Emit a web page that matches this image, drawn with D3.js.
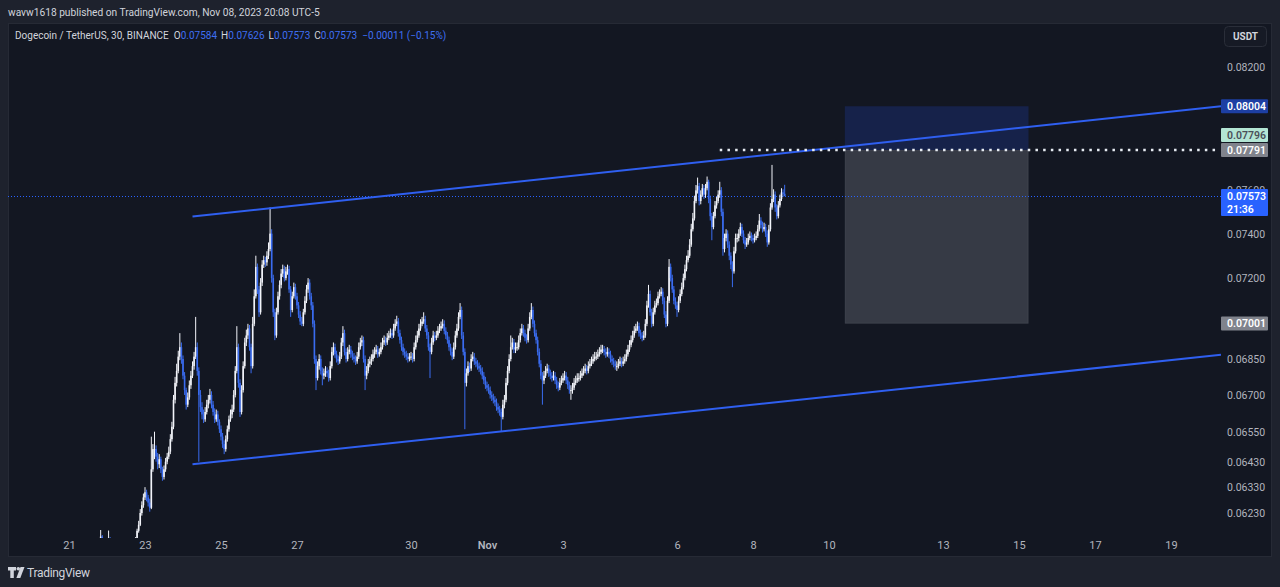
<!DOCTYPE html>
<html><head><meta charset="utf-8">
<script src="https://cdn.jsdelivr.net/npm/d3@7"></script>
<style>
html,body{margin:0;padding:0;background:#1e222d;overflow:hidden}
svg{display:block;font-family:Roboto,"Noto Sans",sans-serif}
</style></head><body>
<svg id="c" width="1280" height="587"></svg>
<script>
// ---------------- DATA ----------------
// Hourly candles (DOGE/USDT), first candle starts Oct 21 2023 18:00; open of each = previous close
const candleStartUTC = [2023, 9, 21, 18];
const firstOpen = 0.06100;
const closes = [
0.06105,0.06120,0.06140,0.06125,0.06110,0.06100,0.06115,0.06135,0.06120,0.06105,0.06095,0.06090,0.06100,0.06110,0.06105,0.06095,0.06090,0.06100,0.06110,0.06120,0.06115,0.06110,0.06120,0.06128,0.06135,
0.06162,0.06185,0.06230,0.06260,0.06290,0.06310,0.06290,0.06270,0.06250,
0.06400,0.06480,0.06480,0.06450,0.06420,0.06440,0.06400,0.06370,0.06400,0.06430,0.06450,0.06470,0.06520,0.06570,
0.06680,0.06750,0.06800,0.06860,0.06900,0.06850,0.06780,0.06720,0.06660,0.06690,0.06740,0.06780,0.06820,0.06860,0.06900,0.06800,
0.06700,0.06650,0.06620,0.06600,0.06630,0.06660,0.06680,0.06700,0.06660,0.06630,0.06600,0.06620,0.06590,0.06560,0.06530,0.06500,0.06480,0.06520,0.06560,0.06600,0.06620,0.06640,0.06700,0.06800,
0.06900,0.06750,0.06630,0.06720,0.06820,0.06920,0.06950,0.06980,0.06900,0.06820,0.07000,0.07120,0.07250,0.07150,0.07050,0.07180,0.07260,0.07280,0.07270,0.07300,0.07330,0.07400,
0.07200,0.07050,0.06950,0.07050,0.07120,0.07170,0.07220,0.07240,0.07200,0.07230,0.07240,0.07150,0.07060,0.07120,0.07160,0.07120,0.07080,0.07040,0.07010,0.07000,0.07050,0.07100,0.07150,0.07180,
0.07120,0.07080,0.07000,0.06850,0.06770,0.06820,0.06850,0.06800,0.06780,0.06790,0.06800,0.06790,0.06770,0.06820,0.06880,0.06900,0.06870,0.06850,0.06840,0.06860,
0.06920,0.06960,0.06880,0.06850,0.06880,0.06890,0.06870,0.06860,0.06850,0.06840,0.06860,0.06900,0.06920,0.06930,0.06850,0.06780,0.06800,0.06830,0.06840,0.06850,
0.06870,0.06880,0.06890,0.06870,0.06880,0.06900,0.06920,0.06930,0.06920,0.06940,0.06950,0.06960,0.06950,0.06980,0.07000,0.07010,0.06960,0.06930,0.06900,0.06880,0.06870,0.06860,0.06850,0.06860,0.06860,0.06850,
0.06900,0.06930,0.06950,0.06980,0.07000,0.07010,0.07020,0.06980,0.06950,0.06900,0.06880,0.06920,0.06950,0.06940,0.06950,0.06970,0.06980,0.06990,0.07000,0.06970,0.06950,0.06930,0.06900,0.06880,0.06860,0.06900,0.06950,0.06980,0.07030,0.07060,
0.06950,0.06880,0.06750,0.06790,0.06820,0.06810,0.06850,0.06860,0.06840,0.06830,0.06820,0.06810,0.06800,0.06780,0.06760,0.06740,0.06730,0.06720,0.06700,0.06690,0.06680,0.06670,0.06650,0.06640,0.06630,0.06610,0.06660,0.06680,
0.06750,0.06800,0.06850,0.06900,0.06920,0.06890,0.06900,0.06900,0.06930,0.06960,0.06980,0.06960,0.06940,0.06930,0.06980,0.07030,0.07060,0.07000,0.06960,0.06930,0.06880,0.06830,0.06780,0.06760,
0.06780,0.06800,0.06810,0.06790,0.06780,0.06770,0.06780,0.06760,0.06740,0.06730,0.06750,0.06760,0.06770,0.06780,0.06760,0.06740,0.06720,0.06720,0.06730,0.06750,0.06760,0.06770,0.06770,0.06780,0.06790,0.06800,0.06810,0.06800,0.06820,0.06830,
0.06840,0.06850,0.06860,0.06860,0.06870,0.06880,0.06890,0.06890,0.06880,0.06870,0.06880,0.06870,0.06850,0.06840,0.06830,0.06820,0.06820,0.06830,0.06840,0.06830,0.06840,0.06850,0.06870,0.06890,0.06910,0.06930,0.06950,0.06970,0.06980,0.06990,
0.06960,0.06950,0.06940,0.06950,0.07000,0.07080,0.07130,0.07050,0.07000,0.07050,0.07080,0.07090,0.07120,0.07130,0.07140,0.07100,0.07040,0.07000,0.07100,0.07250,0.07200,0.07150,0.07100,0.07080,0.07060,0.07100,0.07130,0.07160,0.07200,0.07240,0.07280,0.07300,
0.07350,0.07420,0.07470,0.07550,0.07600,0.07620,0.07550,0.07580,0.07610,0.07580,0.07610,0.07640,0.07560,0.07480,0.07430,0.07480,0.07530,0.07550,0.07580,0.07600,0.07500,0.07330,0.07380,0.07400,0.07350,0.07300,0.07260,0.07230,0.07320,0.07380,
0.07380,0.07400,0.07430,0.07400,0.07370,0.07350,0.07360,0.07380,0.07390,0.07380,0.07370,0.07380,0.07390,0.07420,0.07460,0.07440,0.07420,0.07430,0.07400,0.07360,0.07420,0.07520,0.07560,0.07580,0.07520,0.07480,0.07530,0.07560,0.07590,0.07584,0.07573
];
const highs = [
0.06112,0.06128,0.06165,0.06146,0.06130,0.06116,0.06122,0.06163,0.06138,0.06125,0.06110,0.06100,0.06106,0.06116,0.06118,0.06110,0.06100,0.06105,0.06116,0.06126,0.06128,0.06120,0.06125,0.06133,0.06138,
0.06170,0.06200,0.06245,0.06275,0.06305,0.06330,0.06320,0.06300,0.06285,
0.06530,0.06500,0.06550,0.06495,0.06465,0.06460,0.06450,0.06410,0.06415,0.06445,0.06465,0.06490,0.06540,0.06590,
0.06700,0.06775,0.06830,0.06885,0.06960,0.06920,0.06865,0.06795,0.06730,0.06710,0.06760,0.06800,0.06840,0.06880,0.07030,0.06920,
0.06815,0.06720,0.06670,0.06640,0.06650,0.06680,0.06700,0.06725,0.06715,0.06675,0.06645,0.06640,0.06635,0.06600,0.06575,0.06545,0.06515,0.06535,0.06575,0.06615,0.06640,0.06660,0.06720,0.06820,
0.06990,0.06915,0.06765,0.06740,0.06840,0.06940,0.06975,0.07000,0.06995,0.06915,0.07030,0.07150,0.07300,0.07265,0.07165,0.07200,0.07280,0.07300,0.07295,0.07320,0.07360,0.07520,
0.07420,0.07215,0.07065,0.07070,0.07140,0.07190,0.07240,0.07260,0.07255,0.07250,0.07260,0.07255,0.07165,0.07140,0.07180,0.07175,0.07135,0.07095,0.07055,0.07030,0.07065,0.07120,0.07170,0.07200,
0.07195,0.07135,0.07095,0.07015,0.06865,0.06840,0.06870,0.06865,0.06815,0.06810,0.06820,0.06815,0.06805,0.06840,0.06900,0.06920,0.06915,0.06885,0.06865,0.06880,
0.06940,0.06990,0.06975,0.06895,0.06900,0.06910,0.06905,0.06885,0.06875,0.06865,0.06880,0.06920,0.06940,0.06950,0.06945,0.06865,0.06820,0.06850,0.06860,0.06870,
0.06890,0.06900,0.06910,0.06905,0.06895,0.06920,0.06940,0.06950,0.06945,0.06960,0.06970,0.06980,0.06975,0.07000,0.07020,0.07035,0.07025,0.06975,0.06945,0.06915,0.06895,0.06885,0.06875,0.06875,0.06880,0.06875,
0.06920,0.06950,0.06970,0.07000,0.07020,0.07030,0.07050,0.07035,0.06995,0.06965,0.06915,0.06940,0.06970,0.06965,0.06970,0.06990,0.07000,0.07010,0.07020,0.07015,0.06985,0.06965,0.06945,0.06915,0.06895,0.06920,0.06970,0.07000,0.07050,0.07090,
0.07075,0.06965,0.06895,0.06810,0.06840,0.06835,0.06870,0.06880,0.06875,0.06855,0.06845,0.06835,0.06825,0.06815,0.06795,0.06775,0.06755,0.06745,0.06735,0.06715,0.06705,0.06695,0.06685,0.06665,0.06655,0.06645,0.06680,0.06700,
0.06770,0.06820,0.06870,0.06950,0.06940,0.06935,0.06920,0.06920,0.06950,0.06980,0.07000,0.06995,0.06975,0.06955,0.07000,0.07050,0.07090,0.07075,0.07015,0.06975,0.06945,0.06895,0.06845,0.06795,
0.06800,0.06820,0.06830,0.06825,0.06805,0.06795,0.06800,0.06795,0.06775,0.06755,0.06770,0.06780,0.06790,0.06800,0.06795,0.06775,0.06755,0.06740,0.06750,0.06770,0.06780,0.06790,0.06790,0.06800,0.06810,0.06820,0.06830,0.06825,0.06840,0.06850,
0.06860,0.06870,0.06880,0.06880,0.06890,0.06900,0.06910,0.06910,0.06905,0.06895,0.06900,0.06895,0.06885,0.06865,0.06855,0.06845,0.06840,0.06850,0.06860,0.06855,0.06860,0.06870,0.06890,0.06910,0.06930,0.06950,0.06970,0.06990,0.07000,0.07010,
0.07005,0.06975,0.06965,0.06970,0.07020,0.07100,0.07170,0.07145,0.07065,0.07070,0.07100,0.07110,0.07140,0.07150,0.07160,0.07155,0.07115,0.07055,0.07120,0.07285,0.07265,0.07215,0.07165,0.07115,0.07095,0.07120,0.07150,0.07180,0.07220,0.07260,0.07300,0.07325,
0.07375,0.07445,0.07495,0.07575,0.07625,0.07660,0.07635,0.07600,0.07630,0.07625,0.07630,0.07665,0.07650,0.07575,0.07495,0.07500,0.07550,0.07570,0.07600,0.07640,0.07615,0.07515,0.07400,0.07420,0.07415,0.07365,0.07315,0.07275,0.07340,0.07400,
0.07400,0.07420,0.07450,0.07445,0.07415,0.07385,0.07380,0.07400,0.07410,0.07405,0.07395,0.07400,0.07410,0.07440,0.07490,0.07475,0.07455,0.07450,0.07445,0.07415,0.07440,0.07540,0.07720,0.07605,0.07595,0.07535,0.07550,0.07580,0.07610,0.07605,0.07626
];
const lows = [
0.06092,0.06098,0.06115,0.06118,0.06102,0.06090,0.06095,0.06110,0.06112,0.06098,0.06085,0.06080,0.06084,0.06095,0.06098,0.06088,0.06082,0.06085,0.06095,0.06104,0.06108,0.06102,0.06105,0.06114,0.06120,
0.06130,0.06155,0.06180,0.06220,0.06250,0.06280,0.06275,0.06255,0.06235,
0.06245,0.06390,0.06440,0.06430,0.06400,0.06405,0.06385,0.06355,0.06360,0.06390,0.06420,0.06440,0.06460,0.06510,
0.06560,0.06665,0.06735,0.06790,0.06845,0.06830,0.06765,0.06700,0.06640,0.06650,0.06680,0.06725,0.06770,0.06805,0.06850,0.06780,
0.06430,0.06630,0.06600,0.06585,0.06590,0.06620,0.06645,0.06665,0.06645,0.06615,0.06585,0.06590,0.06575,0.06545,0.06515,0.06485,0.06460,0.06470,0.06510,0.06550,0.06590,0.06605,0.06630,0.06690,
0.06790,0.06730,0.06610,0.06620,0.06710,0.06810,0.06905,0.06935,0.06885,0.06790,0.06810,0.06990,0.07110,0.07130,0.07030,0.07040,0.07165,0.07245,0.07250,0.07255,0.07285,0.07320,
0.07180,0.07030,0.06930,0.06940,0.07040,0.07105,0.07155,0.07205,0.07185,0.07190,0.07215,0.07135,0.07030,0.07050,0.07110,0.07105,0.07065,0.07025,0.06995,0.06990,0.06990,0.07040,0.07090,0.07135,
0.07105,0.07060,0.06985,0.06830,0.06720,0.06760,0.06805,0.06785,0.06740,0.06765,0.06775,0.06775,0.06755,0.06760,0.06810,0.06865,0.06855,0.06835,0.06825,0.06830,
0.06850,0.06905,0.06865,0.06835,0.06840,0.06870,0.06855,0.06845,0.06835,0.06825,0.06830,0.06850,0.06890,0.06905,0.06835,0.06720,0.06765,0.06790,0.06815,0.06825,
0.06840,0.06855,0.06870,0.06855,0.06860,0.06870,0.06890,0.06910,0.06905,0.06910,0.06930,0.06940,0.06935,0.06940,0.06970,0.06990,0.06945,0.06915,0.06885,0.06865,0.06855,0.06845,0.06835,0.06840,0.06845,0.06835,
0.06840,0.06890,0.06920,0.06940,0.06970,0.06990,0.07000,0.06965,0.06935,0.06885,0.06770,0.06870,0.06910,0.06925,0.06930,0.06940,0.06960,0.06970,0.06980,0.06955,0.06935,0.06915,0.06885,0.06865,0.06845,0.06850,0.06890,0.06940,0.06970,0.07020,
0.06935,0.06865,0.06560,0.06735,0.06780,0.06795,0.06800,0.06840,0.06825,0.06815,0.06805,0.06795,0.06785,0.06765,0.06745,0.06725,0.06715,0.06705,0.06685,0.06675,0.06665,0.06655,0.06635,0.06625,0.06615,0.06550,0.06600,0.06645,
0.06670,0.06740,0.06790,0.06840,0.06890,0.06875,0.06875,0.06885,0.06890,0.06920,0.06950,0.06945,0.06925,0.06915,0.06920,0.06970,0.07020,0.06985,0.06945,0.06915,0.06865,0.06815,0.06765,0.06660,
0.06745,0.06770,0.06790,0.06775,0.06765,0.06755,0.06760,0.06745,0.06725,0.06715,0.06720,0.06740,0.06750,0.06760,0.06745,0.06725,0.06705,0.06680,0.06705,0.06720,0.06740,0.06750,0.06755,0.06760,0.06770,0.06780,0.06790,0.06785,0.06790,0.06810,
0.06820,0.06830,0.06840,0.06845,0.06850,0.06860,0.06870,0.06875,0.06865,0.06855,0.06860,0.06855,0.06835,0.06825,0.06815,0.06805,0.06800,0.06810,0.06820,0.06815,0.06820,0.06830,0.06840,0.06860,0.06880,0.06900,0.06920,0.06940,0.06960,0.06970,
0.06945,0.06935,0.06925,0.06930,0.06940,0.06990,0.07070,0.07035,0.06985,0.06990,0.07040,0.07070,0.07080,0.07110,0.07120,0.07085,0.07025,0.06985,0.06990,0.07090,0.07185,0.07135,0.07085,0.07065,0.07030,0.07050,0.07090,0.07120,0.07150,0.07190,0.07230,0.07270,
0.07290,0.07340,0.07410,0.07460,0.07540,0.07585,0.07530,0.07535,0.07570,0.07560,0.07565,0.07600,0.07540,0.07460,0.07370,0.07420,0.07470,0.07515,0.07540,0.07565,0.07480,0.07300,0.07315,0.07365,0.07335,0.07280,0.07240,0.07160,0.07220,0.07310,
0.07360,0.07365,0.07390,0.07385,0.07355,0.07330,0.07340,0.07350,0.07370,0.07365,0.07355,0.07360,0.07370,0.07380,0.07410,0.07425,0.07405,0.07410,0.07385,0.07340,0.07350,0.07410,0.07510,0.07545,0.07500,0.07465,0.07470,0.07520,0.07550,0.07570,0.07573
];

// Axis ticks
const priceTicks = [0.08200,0.08000,0.07800,0.07600,0.07400,0.07200,0.07000,0.06850,0.06700,0.06550,0.06430,0.06330,0.06230];
const timeTickDates = [[2023,9,21],[2023,9,23],[2023,9,25],[2023,9,27],[2023,9,30],[2023,10,1],[2023,10,3],[2023,10,6],[2023,10,8],[2023,10,10],[2023,10,13],[2023,10,15],[2023,10,17],[2023,10,19]];
const timeTickLabels = ["21","23","25","27","30","Nov","3","6","8","10","13","15","17","19"];

// Drawings: [date(UTC parts), price]
const upperTrend = [[[2023,9,24,6],0.07478],[[2023,10,20,8],0.08004]];
const lowerTrend = [[[2023,9,24,6],0.06420],[[2023,10,20,8],0.06868]];
const hLineStart = [2023,10,7,3];
const hLinePrice = 0.07791;
const boxStart = [2023,10,10,10];
const boxEnd = [2023,10,15,6];
const boxStop = 0.08004, boxEntry = 0.07791, boxTarget = 0.07001;
const markerLabel = 0.07796;
const countdown = "21:36";

// ---------------- DRAW ----------------
const U = a => new Date(Date.UTC(a[0], a[1], a[2], a[3]||0, a[4]||0));
const W = 1280, H = 587;
const plot = {x0: 8, x1: 1221, y0: 23, y1: 538};
const svg = d3.select('#c');

const x = d3.scaleUtc().domain([U([2023,9,21]), U([2023,10,20])]).range([69, 69 + 30*38]);
const y = d3.scaleLog().domain([0.0623, 0.082]).range([513, 67]);

// backgrounds
svg.append('rect').attr('width', W).attr('height', H).attr('fill', '#1e222d');
svg.append('rect').attr('x', 8.5).attr('y', 23.5).attr('width', 1263).attr('height', 533)
  .attr('fill', '#131722').attr('stroke', '#262a35');

svg.append('defs').append('clipPath').attr('id', 'pc').append('rect')
  .attr('x', plot.x0).attr('y', plot.y0).attr('width', plot.x1 - plot.x0).attr('height', plot.y1 - plot.y0);
const g = svg.append('g').attr('clip-path', 'url(#pc)');

// position box
const bx0 = x(U(boxStart)), bx1 = x(U(boxEnd));
g.append('rect').attr('x', bx0).attr('width', bx1 - bx0)
  .attr('y', y(boxStop)).attr('height', y(boxEntry) - y(boxStop)).attr('fill', '#16224a');
g.append('rect').attr('x', bx0 + 0.5).attr('width', bx1 - bx0 - 1)
  .attr('y', y(boxEntry) + 0.5).attr('height', y(boxTarget) - y(boxEntry) - 1)
  .attr('fill', '#363a45').attr('stroke', '#3e424d');

// candles
const n = Math.min(closes.length, highs.length, lows.length);
const t0 = U(candleStartUTC).getTime();
const candles = d3.range(n).map(i => {
  const o = i === 0 ? firstOpen : closes[i-1], c = closes[i];
  return {t: new Date(t0 + i*3600e3), o, c, h: Math.max(highs[i], o, c), l: Math.min(lows[i], o, c)};
});
const last = candles[n-1];

// current price line
g.append('line').attr('x1', plot.x0).attr('x2', plot.x1)
  .attr('y1', Math.round(y(last.c)) + 0.5).attr('y2', Math.round(y(last.c)) + 0.5)
  .attr('stroke', '#2962ff').attr('stroke-width', 1).attr('stroke-dasharray', '1,2');

const upCol = '#f2f4fa', dnCol = '#3a6cf0';
const cg = g.append('g');
cg.selectAll('line').data(candles).join('line')
  .attr('x1', d => x(d.t)).attr('x2', d => x(d.t))
  .attr('y1', d => y(d.h)).attr('y2', d => y(d.l))
  .attr('stroke', d => d.c >= d.o ? upCol : dnCol).attr('stroke-width', 1);
cg.selectAll('rect').data(candles).join('rect')
  .attr('x', d => x(d.t) - 0.8).attr('width', 1.6)
  .attr('y', d => y(Math.max(d.o, d.c)))
  .attr('height', d => Math.max(1, y(Math.min(d.o, d.c)) - y(Math.max(d.o, d.c))))
  .attr('fill', d => d.c >= d.o ? upCol : dnCol);

// trend lines (rays to the price scale)
function ray(pts) {
  const [p1, p2] = pts;
  const xa = x(U(p1[0])), ya = y(p1[1]), xb = x(U(p2[0])), yb = y(p2[1]);
  const s = (yb - ya) / (xb - xa);
  g.append('line').attr('x1', xa).attr('y1', ya).attr('x2', plot.x1).attr('y2', ya + s*(plot.x1 - xa))
    .attr('stroke', '#2f5ff0').attr('stroke-width', 2);
}
ray(upperTrend);
ray(lowerTrend);

// horizontal dotted ray
g.append('line').attr('x1', x(U(hLineStart))).attr('x2', plot.x1 - 4)
  .attr('y1', y(hLinePrice)).attr('y2', y(hLinePrice))
  .attr('stroke', '#e6ebf2').attr('stroke-width', 2.5).attr('stroke-dasharray', '2.5,5.2');

// time axis
const ta = svg.append('g').attr('transform', `translate(0,${plot.y1})`)
  .call(d3.axisBottom(x).tickValues(timeTickDates.map(U)).tickFormat((d, i) => timeTickLabels[i]).tickSize(0).tickPadding(3));
ta.select('.domain').remove();
ta.selectAll('text').attr('fill', '#b2b5be').attr('font-size', 11)
  .attr('font-family', 'Roboto, sans-serif').attr('font-weight', (d, i) => timeTickLabels[i] === 'Nov' ? 600 : 400);

// price axis
const pa = svg.append('g').attr('transform', `translate(${plot.x1},0)`)
  .call(d3.axisRight(y).tickValues(priceTicks).tickFormat(d => d.toFixed(5)).tickSize(0));
pa.select('.domain').remove();
pa.selectAll('text').attr('x', 6).attr('text-anchor', 'start').attr('fill', '#b2b5be')
  .attr('font-size', 10.5).attr('font-family', 'Roboto, sans-serif');

// price badges
function badge(yc, lines, bg, fg, hgt) {
  const hh = hgt || 14;
  svg.append('rect').attr('x', plot.x1).attr('y', yc - 7).attr('width', 47).attr('height', hh).attr('fill', bg).attr('rx', 1);
  lines.forEach((t, k) => svg.append('text').attr('x', plot.x1 + 6).attr('y', yc + 3.8 + k*13)
    .attr('fill', fg).attr('font-size', 10.5).attr('font-weight', 600).text(t));
}
badge(y(boxStop), [boxStop.toFixed(5)], '#1d3fa3', '#ffffff');
badge(y(markerLabel) - 14, [markerLabel.toFixed(5)], '#b3e5d4', '#4a4e59');
badge(y(hLinePrice), [hLinePrice.toFixed(5)], '#80838c', '#ffffff');
badge(y(boxTarget), [boxTarget.toFixed(5)], '#80838c', '#ffffff');
badge(y(last.c), [last.c.toFixed(5), countdown], '#2962ff', '#ffffff', 27);

// USDT box
svg.append('rect').attr('x', 1224.5).attr('y', 26.5).attr('width', 42).attr('height', 20).attr('rx', 4)
  .attr('fill', '#161a25').attr('stroke', '#2a2e39');
svg.append('text').attr('x', 1245.5).attr('y', 40).attr('text-anchor', 'middle').attr('fill', '#d1d4dc')
  .attr('font-size', 10).attr('font-weight', 700).text('USDT');

// header
svg.append('text').attr('x', 8).attr('y', 16).attr('fill', '#d1d4dc').attr('font-size', 10.2)
  .text('wavw1618 published on TradingView.com, Nov 08, 2023 20:08 UTC-5');

// legend
const chg = last.c - last.o, pct = chg / last.o * 100;
const lg = svg.append('text').attr('x', 15).attr('y', 38.5).attr('fill', '#d1d4dc').attr('font-size', 10);
lg.append('tspan').text('Dogecoin / TetherUS, 30, BINANCE');
const valCol = '#3f6ff2';
[['O', last.o], ['H', last.h], ['L', last.l], ['C', last.c]].forEach(([k, v], i) => {
  lg.append('tspan').attr('dx', i === 0 ? 5 : 4).attr('fill', '#d1d4dc').text(k);
  lg.append('tspan').attr('fill', valCol).text(v.toFixed(5));
});
lg.append('tspan').attr('dx', 5).attr('fill', valCol)
  .text(`${chg < 0 ? '\u2212' : '+'}${Math.abs(chg).toFixed(5)} (${pct < 0 ? '\u2212' : '+'}${Math.abs(pct).toFixed(2)}%)`);

// footer logo
const fl = svg.append('g').attr('fill', '#d1d4dc');
fl.append('path').attr('d', 'M8,567 H16 V570.5 H13.8 V578 H10.3 V570.5 H8 Z');
fl.append('circle').attr('cx', 18.3).attr('cy', 568.8).attr('r', 1.8);
fl.append('path').attr('d', 'M20.5,567 H24.5 L20.3,578 H16.4 Z');
svg.append('text').attr('x', 27).attr('y', 577).attr('fill', '#d1d4dc').attr('font-size', 12)
  .attr('letter-spacing', -0.3).text('TradingView');
</script>
</body></html>
